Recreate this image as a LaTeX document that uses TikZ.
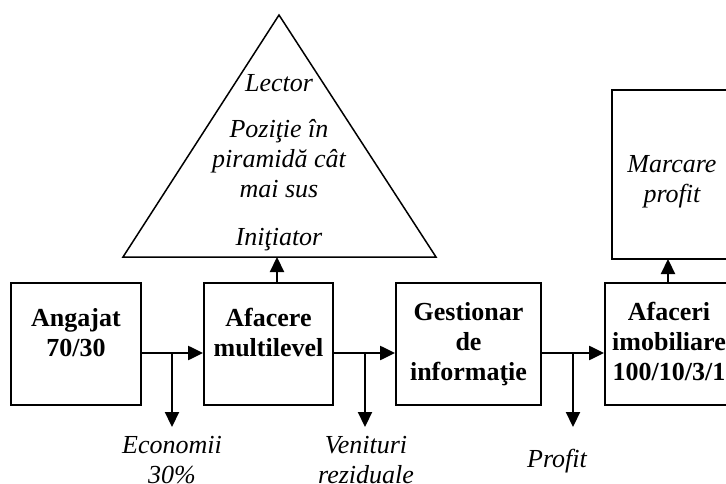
\documentclass[tikz,border=0pt]{standalone}
\usepackage{fontspec}
\setmainfont{Liberation Serif}
\usetikzlibrary{arrows.meta}
\begin{document}
\begin{tikzpicture}[x=1pt,y=-1pt,
  box/.style={draw, line width=1.8pt, inner sep=0pt},
  conn/.style={line width=2.2pt, -{Triangle[length=15pt,width=14pt]}},
  bt/.style={font=\fontsize{26}{30}\selectfont\bfseries, align=center, anchor=base, inner sep=0pt},
  it/.style={font=\fontsize{26}{30}\selectfont\itshape, align=center, anchor=base, inner sep=0pt}]
\useasboundingbox (0,0) rectangle (726,484);
\clip (0,0) rectangle (726,484);
% boxes
\node[box, minimum width=130pt, minimum height=122pt] (ang) at (76,344) {};
\node[box, minimum width=129pt, minimum height=122pt] (mlm) at (268.5,344) {};
\node[box, minimum width=145pt, minimum height=122pt] (gest) at (468.5,344) {};
\node[box, minimum width=128pt, minimum height=122pt] (afi) at (669,344) {};
\node[box, minimum width=120pt, minimum height=169pt] (marc) at (672,174.5) {};
% triangle
\coordinate (tA) at (279,15);
\coordinate (tL) at (123,257);
\coordinate (tR) at (436,257);
\draw[line width=1.5pt, line join=miter] (tA) -- (tL) -- (tR) -- cycle;
% texts in boxes (base = last line)
\node[bt] (angt) at (76,356) {Angajat\\70/30};
\node[bt] (mlmt) at (268.5,356) {Afacere\\multilevel};
\node[bt] (gestt) at (468.5,380) {Gestionar\\de\\informaţie};
\node[bt] (afit) at (669,380) {Afaceri\\imobiliare\\100/10/3/1};
\node[it] (marct) at (672,202) {Marcare\\profit};
% triangle texts
\node[it] (lect) at (279,92) {Lector};
\node[it] (pozt) at (279,197) {Poziţie în\\piramidă cât\\mai sus};
\node[it] (init) at (279,245) {Iniţiator};
% branch coordinates
\coordinate (b1) at (172,353);
\coordinate (e1) at (172,427);
\coordinate (b2) at (365,353);
\coordinate (e2) at (365,427);
\coordinate (b3) at (573,353);
\coordinate (e3) at (573,427);
\coordinate (m1) at (277,283);
\coordinate (m2) at (277,257);
\coordinate (a1) at (668,283);
\coordinate (a2) at (668,259);
% connectors
\draw[conn] (ang.east |- b1) -- (mlm.west |- b1);
\draw[conn] (mlm.east |- b2) -- (gest.west |- b2);
\draw[conn] (gest.east |- b3) -- (afi.west |- b3);
\draw[conn] (b1) -- (e1);
\draw[conn] (b2) -- (e2);
\draw[conn] (b3) -- (e3);
\draw[conn] (m1) -- (m2);
\draw[conn] (a1) -- (a2);
% labels
\node[it] (eco) at (172,483) {Economii\\30\%};
\node[it] (ven) at (366,483) {Venituri\\reziduale};
\node[it] (prof) at (557,467) {Profit};
\end{tikzpicture}
\end{document}
